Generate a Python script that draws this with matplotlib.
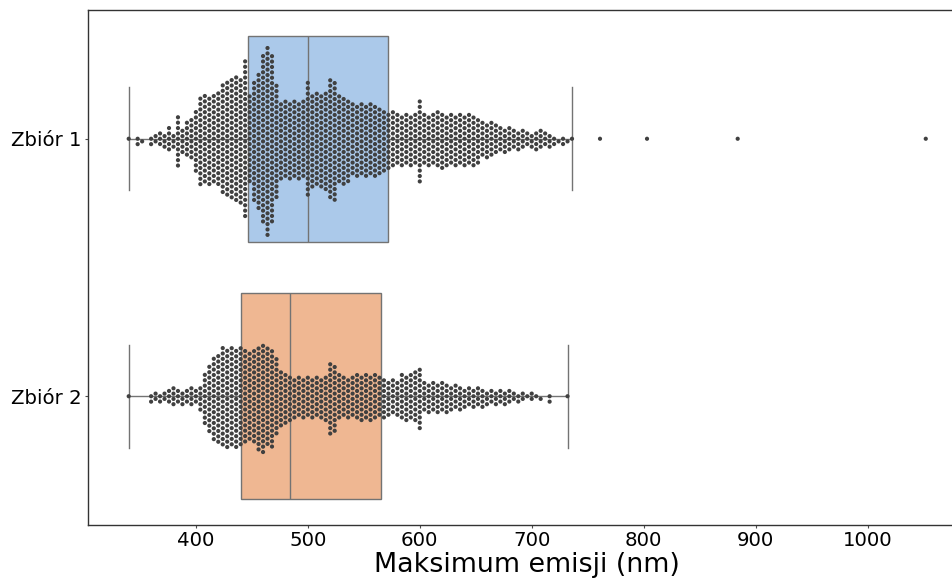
import numpy as np
import pandas as pd
import matplotlib
matplotlib.use("Agg")
import matplotlib.pyplot as plt
import seaborn as sns

bins = np.arange(340, 740, 4)

counts_1 = [1, 0, 2, 1, 0, 2, 2, 3, 3, 5,
            3, 10, 5, 7, 8, 12, 17, 17, 17, 17,
            18, 21, 22, 23, 24, 24, 30, 17, 23, 26,
            32, 36, 32, 22, 15, 15, 15, 15, 15, 15,
            22, 18, 18, 18, 19, 23, 23, 17, 17, 16,
            14, 14, 14, 14, 14, 14, 13, 12, 11, 11,
            10, 10, 10, 10, 10, 16, 10, 10, 10, 11,
            11, 10, 10, 10, 10, 10, 10, 10, 9, 7,
            7, 7, 6, 5, 5, 5, 4, 4, 4, 3,
            3, 4, 4, 3, 3, 2, 1, 2, 1, 1]
outliers_1 = [761, 803, 884, 1052]

counts_2 = [1, 0, 0, 0, 0, 2, 2, 2, 2, 3,
            4, 3, 3, 3, 4, 3, 5, 10, 13, 16,
            17, 19, 19, 19, 19, 19, 18, 17, 18, 20,
            21, 19, 19, 15, 11, 10, 9, 8, 8, 8,
            8, 8, 8, 8, 9, 14, 13, 9, 8, 8,
            8, 9, 9, 9, 9, 9, 8, 8, 7, 7,
            7, 9, 9, 9, 10, 12, 6, 6, 6, 6,
            6, 6, 5, 5, 5, 4, 4, 4, 4, 4,
            3, 3, 3, 3, 3, 3, 2, 2, 2, 1,
            2, 1, 1, 0, 2, 0, 0, 0, 1, 0]
outliers_2 = []

labels = ["Zbiór 1", "Zbiór 2"]

vals_1 = np.concatenate([np.repeat(bins, counts_1), outliers_1])
vals_2 = np.concatenate([np.repeat(bins, counts_2), outliers_2])
df = pd.DataFrame({
    "emisja": np.concatenate([vals_1, vals_2]),
    "zbior": [labels[0]] * len(vals_1) + [labels[1]] * len(vals_2),
})

fig = plt.figure(figsize=(9.53, 5.78), dpi=100)
ax = fig.add_axes([0.0923, 0.0917, 0.9207, 0.891])

sns.boxplot(data=df, x="emisja", y="zbior", hue="zbior", palette="pastel",
            showfliers=False, whis=1.5, linecolor=".45", linewidth=1,
            width=0.8, legend=False, ax=ax)
# linewidth only widens the spacing between dots, the edge itself is not drawn
sns.swarmplot(data=df, x="emisja", y="zbior", color=".25", size=3.0,
              edgecolor="none", linewidth=0.7, ax=ax)

ax.set_xlim(303.6, 1087.4)
ax.set_ylim(1.5, -0.5)
ax.set_xticks([400, 500, 600, 700, 800, 900, 1000])
ax.set_xlabel("Maksimum emisji (nm)", fontsize=19.4, labelpad=1)
ax.set_ylabel("")
ax.tick_params(axis="both", labelsize=14.2, length=2.5, width=0.8, color=".3", pad=2)
for s in ax.spines.values():
    s.set_color(".2")
    s.set_linewidth(1)

fig.savefig("out.png", dpi=100)
